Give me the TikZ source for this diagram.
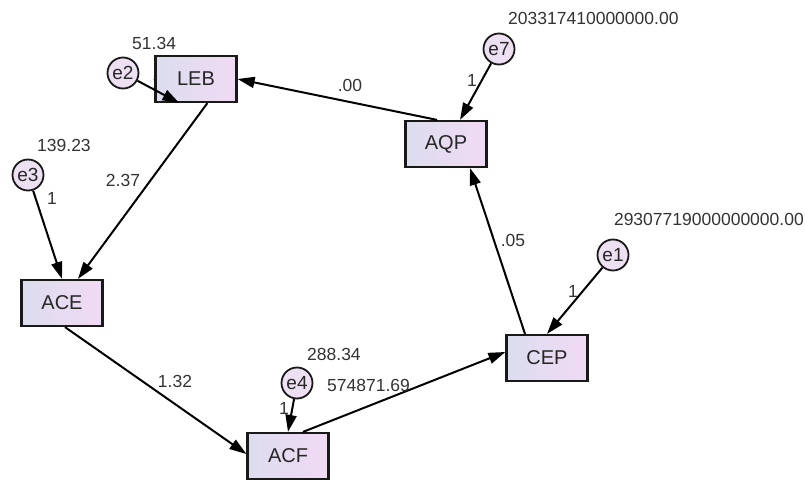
\documentclass[tikz,border=0pt]{standalone}
\usepackage{fontspec}
\setmainfont{Liberation Sans}
\usetikzlibrary{arrows.meta}
\tikzset{
  obsbox/.style={draw=black!90, line width=2.2pt, minimum width=81pt, minimum height=46pt,
    inner sep=0pt, left color={rgb,255:red,220;green,221;blue,238},
    right color={rgb,255:red,240;green,218;blue,244}, text=black!85,
    font=\fontsize{20}{22}\selectfont},
  errc/.style={circle, draw=black!90, line width=1.8pt, minimum size=31pt, inner sep=0pt,
    fill={rgb,255:red,236;green,224;blue,242}, text=black!85,
    font=\fontsize{19}{21}\selectfont},
  path/.style={line width=2pt, draw=black, -{Triangle[length=17pt,width=11pt]}},
  lbl/.style={text=black!80, inner sep=0pt, font=\fontsize{17.5}{19}\selectfont},
}
\begin{document}
\begin{tikzpicture}[x=1pt,y=-1pt]
\useasboundingbox (0,0) rectangle (805,481);
% labels behind
\node[lbl] (l1e2) at (157,83) {1};
% boxes
\node[obsbox] (LEB) at (196,79) {LEB};
\node[obsbox] (ACE) at (62,303) {ACE};
\node[obsbox] (AQP) at (446,144) {AQP};
\node[obsbox] (CEP) at (547,358) {CEP};
\node[obsbox] (ACF) at (288,456) {ACF};
% error circles
\node[errc] (e2) at (123,73) {e2};
\node[errc] (e3) at (28,175) {e3};
\node[errc] (e7) at (499,49) {e7};
\node[errc] (e1) at (613,255) {e1};
\node[errc] (e4) at (297,383) {e4};
% paths
\draw[path] (e2) -- ([xshift=25pt]LEB.south west);
\draw[path] ([xshift=53pt]LEB.south west) -- ([xshift=16pt]ACE.north);
\draw[path] (e3) -- (ACE.north);
\draw[path] ([xshift=3pt]ACE.south) -- ([yshift=2pt]ACF.west);
\draw[path] (e4) -- (ACF.north);
\draw[path] ([xshift=15pt]ACF.north) -- ([yshift=6pt]CEP.west);
\draw[path] (e1) -- (CEP.north);
\draw[path] ([xshift=-22pt]CEP.north) -- ([xshift=24pt]AQP.south);
\draw[path] (e7) -- ([xshift=14pt]AQP.north);
\draw[path] ([xshift=-9pt]AQP.north) -- (LEB.east);
% value labels
\node[lbl, anchor=west] (v51) at (132,43) {51.34};
\node[lbl, anchor=west] (v139) at (37,145) {139.23};
\node[lbl, anchor=west] (v203) at (508,18) {203317410000000.00};
\node[lbl, anchor=east] (v293) at (804,219) {29307719000000000.00};
\node[lbl, anchor=west] (v288) at (307,354) {288.34};
\node[lbl, anchor=west] (v574) at (327,385) {574871.69};
\node[lbl] (w237) at (123,180) {2.37};
\node[lbl] (w132) at (175,381) {1.32};
\node[lbl] (w00) at (350,85) {.00};
\node[lbl] (w05) at (513,240) {.05};
\node[lbl] (l1e3) at (52,198) {1};
\node[lbl] (l1e7) at (472,80) {1};
\node[lbl] (l1e1) at (573,291) {1};
\node[lbl] (l1e4) at (284,408) {1};
\end{tikzpicture}
\end{document}
